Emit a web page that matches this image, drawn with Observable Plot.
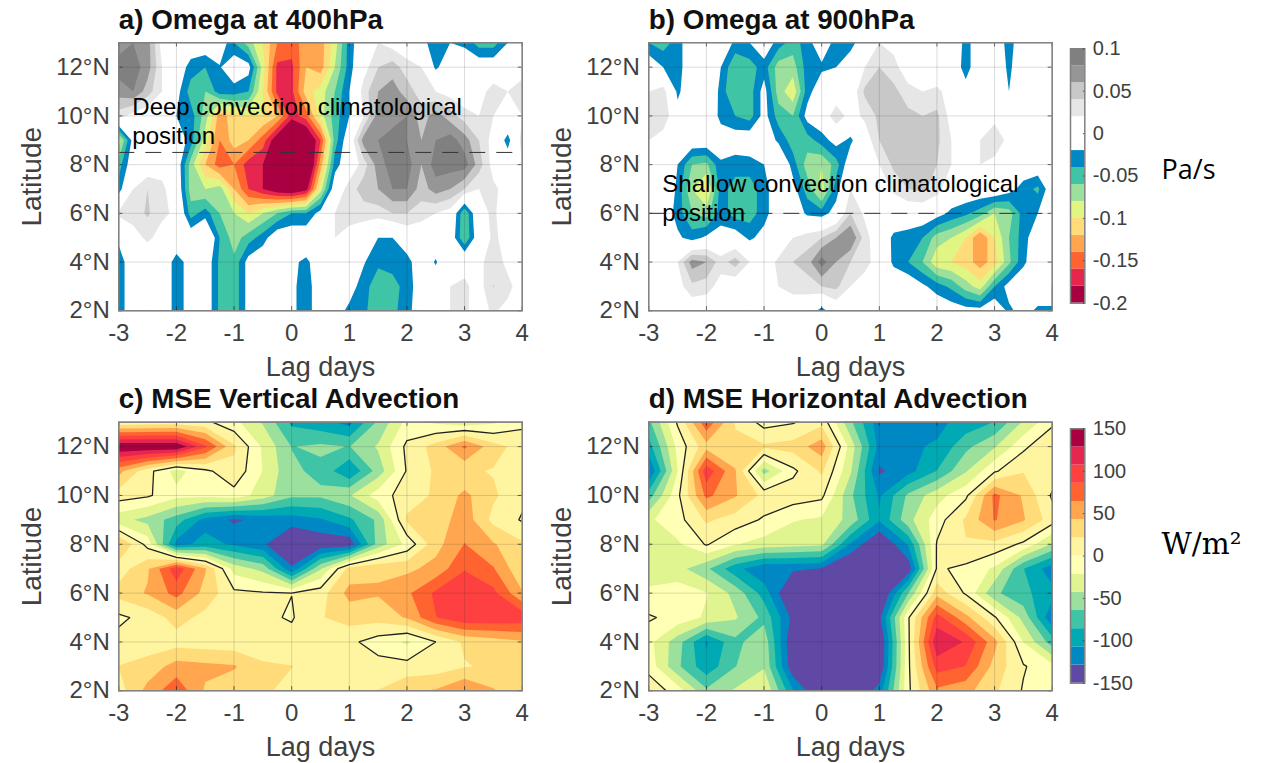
<!DOCTYPE html>
<html><head><meta charset="utf-8">
<script src="https://cdn.jsdelivr.net/npm/d3@7"></script>
<script src="https://cdn.jsdelivr.net/npm/@observablehq/plot@0.6"></script>
<style>
html,body{margin:0;padding:0;background:#fff;overflow:hidden}
#page{position:relative;width:1271px;height:763px}
#page>div{position:absolute}
svg{display:block;background:transparent}
</style></head><body><div id="page"></div>
<script>
// Latitudes run from the top row (13N) to the bottom row (2N).
const lats = [13,12,11,10,9,8,7,6,5,4,3,2];
const xTicks = [-3,-2,-1,0,1,2,3,4];
const yTicks = [2,4,6,8,10,12];

// Omega in hundredths of Pa/s, every 0.25 lag day from -3 to 4
const omega400 = [
[7,8,7,1,0,0,0,0,-4,-7,-10,-14,-15,-13,-13,-9,-3,0,2,1,0,-1,-3.5,-2,-2.5,-5,-5,-2,0],
[9,9,7,2,0,-3,-4,-2.2,0,-1,-9,-16.5,-16.5,-12,-13,-8,-3,1,4,5,3,2,-2.5,0,0,0,0,0,1],
[7,8,5,2,-1,-5,-6,-3,-3,-4,-10,-16.5,-16.5,-11,-9,-6,-2,3,6,7,5,3,2,1,0,1,3,2,3],
[3,1,0,0,-2,-3,-7,-13,-11,-10,-10,-12,-17,-15,-9,-5,-2,2,7,7,8,5,7,5,3,2,2,1,2],
[-9,-1,0,0,0,-3,-9,-14,-11,-12,-15,-20,-24,-22,-16,-5,0,7,8,9,8,6,8,9,7,4,1,-3,3],
[-5,0,0,1,0,-7,-12,-15,-14,-17,-18,-24,-25,-24,-13,-3,0,3,7,9,9,6,9,9,9,5,1,0,2],
[-3,2,4,2.5,.5,-7,-8,-7,-12,-16,-18,-20,-21,-19,-9,0,3,5,6,8,8,5,7,6,4,2,2.5,1,2],
[2.5,3,4.3,2.5,1.5,-5,-3,-6,-8,-10,-8,-6,-4,-4,-1,2,3,3,3,4,4,3,2,1,-6,1,2.5,0,0],
[-1.5,1,2.5,1,0,0,2,-4,-7,-5,-3,0,0,0,1,2,1,0,-2,-2,0,0,0,0,-6,0,2.5,1,0],
[-3,-.5,0,0,-3,-1,0,-4.5,-5.5,-1,0,0,-1.5,-2.5,-.5,0,0,-1.8,-3.5,-3.5,-3,0,-2.3,1,1,1.5,3,1.5,0],
[-3,-.5,0,0,-3,-1,0,-4.5,-5.5,-1,0,0,-1.5,-3,-.5,0,-1,-3,-5.5,-4.5,-3.5,0,0,2,2.5,1,4.1,2.5,1],
[-3,-.5,0,0,-3,-1,0,-4.5,-5.5,-1,0,0,-1.5,-3,-.5,-1,-2.5,-3.5,-5.5,-4.5,-3,0,0,2,2.2,1.5,2.2,1.5,0]
];
const omega900 = [
[-4,-5,-3,0,0,0,-2.5,-2,0,-3,-5,-3,0,-3,-3,0,2,1,0,0,2,1,-3,0,0,-3,0,0,0],
[0,-2,-3,0,2,-2,-6,-5,-3,-7,-7,-3,-2.5,-2,0,2,4,3,0,0,0,0,-3,0,0,-2.5,0,0,0],
[2,3,-2.5,0,2,-3,-6,-5,-1,-7,-9.5,-3,0,0,0,4.5,6,4.5,3,2,2.5,1,-1,0,1,-2,0,0,0],
[3,4,-1,0,1.5,-3,-4,-5,-1,-5,-6,-1,0,3.5,1,2.5,4.5,4.5,4.5,4,4.5,1,0,0,1,0,0,0,0],
[2,.5,0,0,0,0,-.5,0,0,-2.5,-5,-5,-3,-1,-2.5,.5,4,5.5,6,4.5,4.5,2,0,2,4,1,0,0,-1],
[0,0,-2,-6,-6.5,-2.5,-3,-3,-2,1.5,-3,-7,-8,-5,0,.5,2,4.5,6,4.5,4,2,0,2,1,0,0,0,0],
[0,.5,-2.5,-8,-10.5,-3,-5,-5,-3,0,-1,-5,-9,-3,2,1,0,2.5,4,4.5,3,0,0,0,.5,-1,-3,-4.5,0],
[2,0,-3,-6,-7,-3,-5,-5,-3,0,0,-2.5,-3,-1,4,1.5,0,0,0,0,-1,-2.5,-3.5,-5,-8,-7,-3,-2,0],
[2,0,-1.5,-3,-1.5,-1,-.5,-2.5,-1,0,2,3,4,6,8,3,0,-2.5,-3,-4,-7,-8,-10,-14,-10,-6,-3,0,0],
[0,0,2,7,6,3,5,2,.5,2.5,4,5,9,6,4,3,.5,-2.5,-4,-6,-9.5,-10,-11,-13,-11,-6.5,-2.5,0,0],
[0,0,1,3.5,3,1,0,0,0,2,3,3,4,4.5,2,.5,0,0,0,-1.5,-3,-4.5,-7,-9,-4,-1,0,0,0],
[0,0,0,0,0,0,-2,0,0,0,0,0,-3,0,0,0,0,0,2,1.5,0,-.5,-1,-1,0,-2.5,-1,-2.5,-2.5]
];
// MSE advection in W/m2, every 0.5 lag day from -3 to 4
const mseVertical = [
[5,8,10,5,-15,-45,-90,-100,-115,-60,-15,-25,-35,-25,-5],
[150,150,150,90,25,-25,-65,-60,-65,-40,5,30,68,30,12],
[50,8,-30,-5,15,-22,-60,-70,-105,-55,2,25,25,20,10],
[10,3,-15,-15,-8,-32,-60,-60,-45,-10,10,25,48,25,5],
[-35,-50,-75,-115,-132,-122,-118,-110,-90,-60,25,30,55,15,-2],
[45,-8,-115,-100,-110,-125,-155,-145,-145,-55,-15,35,65,45,25],
[10,40,100,45,-30,-50,-125,-45,30,40,38,50,84,66,25],
[30,45,72,35,5,2,.3,12,50,45,60,90,105,92,45],
[-5,8,30,15,8,4,-2,20,30,30,45,85,103,103,100],
[8,10,12,10,8,8,8,10,5,-10,-25,0,25,32,40],
[22,30,52,48,45,25,22,8,8,8,8,10,20,25,25],
[12,50,80,40,30,25,15,10,15,22,40,45,65,45,25]
];
const mseHorizontal = [
[-70,3,80,20,-8,-2,15,-60,-120,-125,-112,-100,-85,-40,-5],
[-95,-15,35,25,25,30,55,-30,-115,-110,-105,-70,-45,-5,20],
[-130,-22,100,45,-52,-5,25,-40,-132,-115,-85,-45,-3,20,15],
[-75,-5,70,45,15,12,5,-60,-110,-60,-30,-5,70,40,-3],
[-25,-8,25,12,-3,-20,-25,-50,-105,-50,-10,25,66,45,10],
[-45,-25,2,-20,-30,-35,-38,-110,-155,-105,2,20,15,-5,-45],
[-25,-35,-60,-100,-125,-125,-130,-160,-170,-145,3,-5,-25,-85,-120],
[-20,-10,-20,-50,-95,-160,-170,-170,-160,-65,35,-3,-60,-80,-100],
[3,-8,-25,-40,-70,-135,-170,-170,-135,-3,95,50,3,-50,-125],
[-15,-55,-110,-70,-50,-150,-170,-170,-155,-5,125,105,50,-22,-75],
[-8,-60,-100,-65,-45,-145,-170,-170,-150,-5,95,85,35,2,-15],
[15,-10,-60,-40,-22,-105,-155,-155,-120,-5,60,50,25,-2,-8]
];

const omegaLevels = [-1e6,-18,-16,-14,-12,-10,-8,-6,-4,-2,0,2,4,6,8];
const omegaColors = ["#a80040","#e6264f","#ff6330","#ffa64f","#ffdb7a","#e0f582","#9be09d","#3fc5a5","#0088c4","#ffffff","#ffffff","#e6e6e6","#c8c8c8","#969696","#808080"];
const mseLevels = [-1e6,-128.57,-107.14,-85.71,-64.29,-42.86,-21.43,0,21.43,42.86,64.29,85.71,107.14,128.57];
const mseColors = ["#6048a5","#0088c4","#00aab4","#3fc5a5","#9be09d","#e0f58f","#ffffb5","#fff5a0","#ffdb7a","#ffa64f","#ff6330","#ff4040","#e6264f","#a80040"];

const FONT = "'Liberation Sans',Arial,sans-serif";
const INK = "#262626", LABEL = "#404040";
const page = document.getElementById("page");
function place(node,left,top){const d=document.createElement("div");d.style.left=left+"px";d.style.top=top+"px";d.appendChild(node);page.appendChild(d);}

function panel({rows,levels,colors,title,note,noteDy,dash,zero,left,top,marginTop}){
  const h=rows.length,w=rows[0].length,step=7/(w-1);
  const flat=rows.flat();
  const area={x1:-3-step/2,x2:4+step/2,y1:lats[0]+.5,y2:lats[lats.length-1]-.5,width:w,height:h};
  const marks=[
    Plot.contour(flat,{...area,fill:Plot.identity,thresholds:levels,stroke:"none",clip:true,smooth:true})
  ];
  if(zero) marks.push(Plot.contour(flat,{...area,value:Plot.identity,thresholds:[0],stroke:"#222",strokeWidth:1.3,fill:"none",clip:true}));
  marks.push(
    Plot.ruleX(xTicks,{stroke:INK,strokeOpacity:.16,strokeWidth:1}),
    Plot.ruleY(yTicks,{stroke:INK,strokeOpacity:.16,strokeWidth:1}),
    Plot.ruleX(xTicks,{y1:2,y2:2.17,stroke:INK,strokeOpacity:.7}),
    Plot.ruleX(xTicks,{y1:13,y2:12.83,stroke:INK,strokeOpacity:.7}),
    Plot.ruleY(yTicks,{x1:-3,x2:-2.93,stroke:INK,strokeOpacity:.7}),
    Plot.ruleY(yTicks,{x1:4,x2:3.93,stroke:INK,strokeOpacity:.7})
  );
  if(dash!=null) marks.push(Plot.ruleY([dash],{stroke:"#333",strokeWidth:1,strokeDasharray:"16,11"}));
  marks.push(
    Plot.frame({stroke:"#808080",strokeWidth:1.5}),
    Plot.axisX(xTicks,{anchor:"bottom",tickSize:0,tickPadding:13,fontSize:24,fill:LABEL,label:null,tickFormat:d=>String(d)}),
    Plot.axisY(yTicks,{anchor:"left",tickSize:0,tickPadding:9,fontSize:24,fill:LABEL,label:null,tickFormat:d=>d+"°N"}),
    Plot.text(["Lag days"],{frameAnchor:"bottom",dy:57,lineAnchor:"middle",fontSize:27,fill:LABEL}),
    Plot.text(["Latitude"],{frameAnchor:"left",dx:-87,rotate:-90,textAnchor:"middle",fontSize:28,fill:LABEL}),
    Plot.text([title],{frameAnchor:"top-left",dy:-23,lineAnchor:"middle",textAnchor:"start",fontSize:27.8,fontWeight:"bold",fill:"#111"})
  );
  if(note) marks.push(Plot.text([note],{frameAnchor:"top-left",dx:13.5,dy:noteDy,lineAnchor:"top",textAnchor:"start",fontSize:24,lineHeight:1.21,fill:"#000"}));
  const svg=Plot.plot({width:530,height:383,marginTop,marginBottom:72.7,marginLeft:118.3,marginRight:8.3,
    style:{fontFamily:FONT,background:"transparent"},
    x:{domain:[-3,4]},y:{domain:[2,13]},
    color:{type:"ordinal",domain:levels,range:colors},
    marks});
  place(svg,left,top);
}

function colorbar({levels,colors,lo,hi,ticks,fmt,top,unit,unitDy,unitFont,unitSize}){
  const edges=[lo,...levels.slice(1),hi];
  const bands=colors.map((c,i)=>({c,y1:edges[i],y2:edges[i+1]}));
  const svg=Plot.plot({width:211,height:380,marginTop:48.3,marginBottom:77.3,marginLeft:10,marginRight:186.7,
    style:{fontFamily:FONT,background:"transparent"},
    x:{domain:[0,1],axis:null},y:{domain:[lo,hi],axis:null},
    marks:[
      Plot.rect(bands,{x1:0,x2:1,y1:"y1",y2:"y2",fill:"c"}),
      Plot.frame({stroke:"#808080",strokeWidth:1.5}),
      Plot.ruleY(ticks,{x1:.9,x2:1,stroke:INK,strokeOpacity:.7}),
      Plot.axisY(ticks,{anchor:"right",tickSize:0,tickPadding:8,fontSize:20,fill:LABEL,label:null,tickFormat:fmt}),
      Plot.text([unit],{frameAnchor:"right",dx:76.7,dy:unitDy,textAnchor:"start",fontSize:unitSize,fontFamily:unitFont,fill:"#000"})
    ]});
  place(svg,1060,top);
}

const axesTop=42.3, axesTopLow=41.7;
panel({rows:omega400,levels:omegaLevels,colors:omegaColors,title:"a) Omega at 400hPa",note:"Deep convection climatological\nposition",noteDy:52,dash:8.5,left:0,top:0,marginTop:axesTop});
panel({rows:omega900,levels:omegaLevels,colors:omegaColors,title:"b) Omega at 900hPa",note:"Shallow convection climatological\nposition",noteDy:129,dash:6,left:530,top:0,marginTop:axesTop});
panel({rows:mseVertical,levels:mseLevels,colors:mseColors,title:"c) MSE Vertical Advection",zero:true,left:0,top:380,marginTop:axesTopLow});
panel({rows:mseHorizontal,levels:mseLevels,colors:mseColors,title:"d) MSE Horizontal Advection",zero:true,left:530,top:380,marginTop:axesTopLow});
colorbar({levels:omegaLevels,colors:omegaColors,lo:-20,hi:10,ticks:[-20,-15,-10,-5,0,5,10],fmt:d=>String(d/100),top:0,unit:"Pa/s",unitDy:-6,unitFont:"'Open Sans',sans-serif",unitSize:27});
colorbar({levels:mseLevels,colors:mseColors,lo:-150,hi:150,ticks:[-150,-100,-50,0,50,100,150],fmt:d=>String(d),top:380,unit:"W/m²",unitDy:-11,unitFont:"'DejaVu Serif',serif",unitSize:29.5});
</script></body></html>
